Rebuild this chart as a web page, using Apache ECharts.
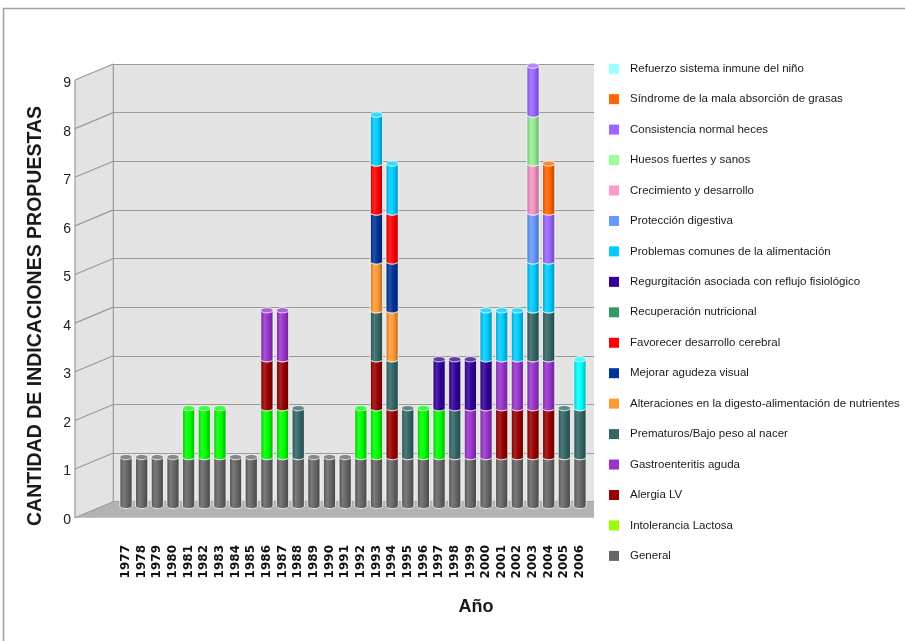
<!DOCTYPE html>
<html>
<head>
<meta charset="utf-8">
<script src="https://cdn.jsdelivr.net/npm/echarts@6/dist/echarts.min.js"></script>
<style>
  html, body { margin: 0; padding: 0; background: #ffffff; }
  #chart { width: 905px; height: 641px; }
</style>
</head>
<body>
<div id="chart"></div>
<script>
// Years on the category axis
const years = ['1977','1978','1979','1980','1981','1982','1983','1984','1985','1986',
               '1987','1988','1989','1990','1991','1992','1993','1994','1995','1996',
               '1997','1998','1999','2000','2001','2002','2003','2004','2005','2006'];

// Value-axis ticks
const yTicks = [0, 1, 2, 3, 4, 5, 6, 7, 8, 9];

// Number of proposed indications per year, one array per category (stacked bottom-up)
const general        = [1,1,1,1,1,1,1,1,1,1,1,1,1,1,1,1,1,1,1,1,1,1,1,1,1,1,1,1,1,1];
const intolerancia   = [0,0,0,0,1,1,1,0,0,1,1,0,0,0,0,1,1,0,0,1,1,0,0,0,0,0,0,0,0,0];
const alergia        = [0,0,0,0,0,0,0,0,0,1,1,0,0,0,0,0,1,1,0,0,0,0,0,0,1,1,1,1,0,0];
const gastro         = [0,0,0,0,0,0,0,0,0,1,1,0,0,0,0,0,0,0,0,0,0,0,1,1,1,1,1,1,0,0];
const prematuros     = [0,0,0,0,0,0,0,0,0,0,0,1,0,0,0,0,1,1,1,0,0,1,0,0,0,0,1,1,1,1];
const alteraciones   = [0,0,0,0,0,0,0,0,0,0,0,0,0,0,0,0,1,1,0,0,0,0,0,0,0,0,0,0,0,0];
const agudezaVisual  = [0,0,0,0,0,0,0,0,0,0,0,0,0,0,0,0,1,1,0,0,0,0,0,0,0,0,0,0,0,0];
const desCerebral    = [0,0,0,0,0,0,0,0,0,0,0,0,0,0,0,0,1,1,0,0,0,0,0,0,0,0,0,0,0,0];
const recuperacion   = [0,0,0,0,0,0,0,0,0,0,0,0,0,0,0,0,0,0,0,0,0,0,0,0,0,0,0,0,0,0];
const regurgitacion  = [0,0,0,0,0,0,0,0,0,0,0,0,0,0,0,0,0,0,0,0,1,1,1,1,0,0,0,0,0,0];
const problemas      = [0,0,0,0,0,0,0,0,0,0,0,0,0,0,0,0,1,1,0,0,0,0,0,1,1,1,1,1,0,0];
const proteccion     = [0,0,0,0,0,0,0,0,0,0,0,0,0,0,0,0,0,0,0,0,0,0,0,0,0,0,1,0,0,0];
const crecimiento    = [0,0,0,0,0,0,0,0,0,0,0,0,0,0,0,0,0,0,0,0,0,0,0,0,0,0,1,0,0,0];
const huesos         = [0,0,0,0,0,0,0,0,0,0,0,0,0,0,0,0,0,0,0,0,0,0,0,0,0,0,1,0,0,0];
const consistencia   = [0,0,0,0,0,0,0,0,0,0,0,0,0,0,0,0,0,0,0,0,0,0,0,0,0,0,1,1,0,0];
const sindrome       = [0,0,0,0,0,0,0,0,0,0,0,0,0,0,0,0,0,0,0,0,0,0,0,0,0,0,0,1,0,0];
const refuerzo       = [0,0,0,0,0,0,0,0,0,0,0,0,0,0,0,0,0,0,0,0,0,0,0,0,0,0,0,0,0,1];

// Category names, bottom of the stack first
const names = [
  'General', 'Intolerancia Lactosa', 'Alergia LV', 'Gastroenteritis aguda',
  'Prematuros/Bajo peso al nacer', 'Alteraciones en la digesto-alimentación de nutrientes',
  'Mejorar agudeza visual', 'Favorecer desarrollo cerebral', 'Recuperación nutricional',
  'Regurgitación asociada con reflujo fisiológico', 'Problemas comunes de la alimentación',
  'Protección digestiva', 'Crecimiento y desarrollo', 'Huesos fuertes y sanos',
  'Consistencia normal heces', 'Síndrome de la mala absorción de grasas',
  'Refuerzo sistema inmune del niño'
];
const values = [general, intolerancia, alergia, gastro, prematuros, alteraciones,
  agudezaVisual, desCerebral, recuperacion, regurgitacion, problemas, proteccion,
  crecimiento, huesos, consistencia, sindrome, refuerzo];

// Cylinder colours and legend swatch colours
const barColors = ['#666666','#00ff00','#990000','#9933cc','#336666','#ff9933','#003399',
  '#ff0000','#339966','#330099','#00ccff','#6699ff','#f294c4','#94f094','#9966ff','#ff6600','#00ffff'];
const legendColors = ['#666666','#99ff00','#990000','#9933cc','#336666','#ff9933','#003399',
  '#ff0000','#339966','#330099','#00ccff','#6699ff','#ff99cc','#99ff99','#9966ff','#ff6600','#99ffff'];

function toRgb(h) { h = h.replace('#', ''); return [0, 2, 4].map(i => parseInt(h.substr(i, 2), 16)); }
function rgbStr(a) { return 'rgb(' + a.map(v => Math.max(0, Math.min(255, Math.round(v)))).join(',') + ')'; }
function shade(h, f) { return rgbStr(toRgb(h).map(v => v * f)); }
function tint(h, t) { return rgbStr(toRgb(h).map(v => v + (255 - v) * t)); }

const RIM = 'rgba(255,255,255,0.8)';
const DEPTH = [-38.3, 16];   // oblique offset from the back wall to the front edge

function cylinder(color) {
  const body = {
    type: 'linear', x: 0, y: 0, x2: 1, y2: 0,
    colorStops: [
      { offset: 0, color: shade(color, 0.78) },
      { offset: 0.3, color: tint(color, 0.14) },
      { offset: 0.6, color: color },
      { offset: 1, color: shade(color, 0.7) }
    ]
  };
  const cap = tint(color, 0.22);
  return function (params, api) {
    const i = api.value(0);
    const pb = api.coord([i, api.value(1)]);
    const pt = api.coord([i, api.value(2)]);
    const w = api.size([1, 0])[0] * 0.78;
    const l = pb[0] - w / 2, r = pb[0] + w / 2, ry = 2.6;
    return {
      type: 'group',
      children: [
        { type: 'ellipse', shape: { cx: pb[0], cy: pb[1], rx: w / 2, ry: ry },
          style: { fill: body, stroke: RIM, lineWidth: 1 } },
        { type: 'rect', shape: { x: l, y: pt[1], width: w, height: pb[1] - pt[1] },
          style: { fill: body } },
        { type: 'line', shape: { x1: l, y1: pt[1], x2: l, y2: pb[1] },
          style: { stroke: RIM, lineWidth: 1 } },
        { type: 'line', shape: { x1: r, y1: pt[1], x2: r, y2: pb[1] },
          style: { stroke: RIM, lineWidth: 1 } },
        { type: 'ellipse', shape: { cx: pt[0], cy: pt[1], rx: w / 2, ry: ry },
          style: { fill: cap, stroke: RIM, lineWidth: 1 } }
      ]
    };
  };
}

// Side wall, floor and the slanted grid lines of the box
function renderFrame(params, api) {
  const dx = DEPTH[0], dy = DEPTH[1];
  const b0 = api.coord([0, yTicks[0]]);
  const bTop = api.coord([0, yTicks[yTicks.length - 1]]);
  const r0 = api.coord([1, yTicks[0]]);
  const kids = [
    { type: 'polygon', shape: { points: [bTop, b0, [b0[0] + dx, b0[1] + dy], [bTop[0] + dx, bTop[1] + dy]] },
      style: { fill: '#e3e3e3' } },
    { type: 'polygon', shape: { points: [b0, r0, [r0[0], r0[1] + dy], [b0[0] + dx, b0[1] + dy]] },
      style: { fill: '#b3b3b3' } }
  ];
  yTicks.forEach(v => {
    const p = api.coord([0, v]);
    kids.push({ type: 'line', shape: { x1: p[0] + dx, y1: p[1] + dy, x2: p[0], y2: p[1] },
      style: { stroke: '#9a9a9a', lineWidth: 1.2 } });
  });
  kids.push({ type: 'line', shape: { x1: bTop[0], y1: bTop[1], x2: b0[0], y2: b0[1] },
    style: { stroke: '#9a9a9a', lineWidth: 1.2 } });
  kids.push({ type: 'line', shape: { x1: bTop[0] + dx, y1: bTop[1] + dy, x2: b0[0] + dx, y2: b0[1] + dy },
    style: { stroke: '#9a9a9a', lineWidth: 1.2 } });
  return { type: 'group', children: kids };
}

// Stack the categories: each data item is [yearIndex, base, top]
const cumulative = years.map(() => 0);
const barSeries = names.map((name, s) => {
  const data = [];
  values[s].forEach((v, i) => {
    if (v > 0) {
      data.push([i, cumulative[i], cumulative[i] + v]);
      cumulative[i] += v;
    }
  });
  return {
    name: name,
    type: 'custom',
    xAxisIndex: 1, yAxisIndex: 1,
    renderItem: cylinder(barColors[s]),
    itemStyle: { color: legendColors[s] },
    encode: { x: 0, y: [1, 2] },
    data: data
  };
});

const chart = echarts.init(document.getElementById('chart'), null, { renderer: 'canvas' });

chart.setOption({
  animation: false,
  backgroundColor: '#ffffff',
  grid: [
    { left: 113.3, top: 64, width: 480.7, height: 437.7, show: true,
      backgroundColor: '#e4e4e4', borderWidth: 0, outerBoundsMode: 'none' },
    { left: 118.2, top: 65.7, width: 469.6, height: 440.3, outerBoundsMode: 'none' },
    { left: 75, top: 83.3, width: 1, height: 436.7, outerBoundsMode: 'none' }
  ],
  xAxis: [
    { gridIndex: 0, type: 'value', min: 0, max: 1, show: false },
    { gridIndex: 1, type: 'category', data: years,
      axisLine: { show: false }, axisTick: { show: false }, splitLine: { show: false },
      axisLabel: { interval: 0, rotate: 90, margin: 39,
        fontFamily: '"DejaVu Sans", Verdana, sans-serif', fontWeight: 'bold',
        fontSize: 12, color: '#111111' } },
    { gridIndex: 2, type: 'value', show: false }
  ],
  yAxis: [
    { gridIndex: 0, type: 'value', min: 0, max: 9, interval: 1,
      axisLine: { show: false }, axisTick: { show: false }, axisLabel: { show: false },
      splitLine: { show: true, lineStyle: { color: '#9a9a9a', width: 1.2 } } },
    { gridIndex: 1, type: 'value', min: 0, max: 9, interval: 1, show: false },
    { gridIndex: 2, type: 'value', min: 0, max: 9, interval: 1,
      axisLine: { show: false }, axisTick: { show: false }, splitLine: { show: false },
      axisLabel: { margin: 4, fontSize: 14, color: '#222222',
        fontFamily: '"Liberation Sans", Arial, sans-serif',
        formatter: v => (yTicks.indexOf(v) >= 0 ? String(v) : '') } }
  ],
  legend: {
    orient: 'vertical',
    left: 604, top: 56.7,
    icon: 'rect',
    itemWidth: 10, itemHeight: 10, itemGap: 16.45,
    selectedMode: false,
    textStyle: { fontFamily: '"Liberation Sans", Arial, sans-serif',
      fontSize: 11.5, lineHeight: 14, color: '#1a1a1a', padding: [0, 0, 0, 6] },
    data: names.map((n, s) => ({ name: n, itemStyle: { color: legendColors[s] } })).reverse()
  },
  graphic: [
    { type: 'rect', shape: { x: 3.5, y: 8.5, width: 1000, height: 1000 }, silent: true,
      style: { fill: 'none', stroke: '#a0a0a0', lineWidth: 1.5 } },
    { type: 'text', x: 36, y: 316, rotation: Math.PI / 2, silent: true,
      style: { text: 'CANTIDAD DE INDICACIONES PROPUESTAS', fill: '#1a1a1a',
        font: 'bold 19.5px "Liberation Sans", Arial, sans-serif', align: 'center', verticalAlign: 'middle' } },
    { type: 'text', x: 476, y: 607, silent: true,
      style: { text: 'Año', fill: '#1a1a1a',
        font: 'bold 18px "Liberation Sans", Arial, sans-serif', align: 'center', verticalAlign: 'middle' } }
  ],
  series: [
    { type: 'custom', name: '__frame', xAxisIndex: 0, yAxisIndex: 0, silent: true,
      renderItem: renderFrame, data: [[0, 0]] }
  ].concat(barSeries)
});
</script>
</body>
</html>
